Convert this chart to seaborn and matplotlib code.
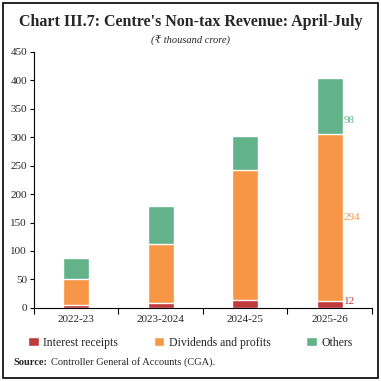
import pandas as pd
import seaborn as sns
import matplotlib.pyplot as plt
from matplotlib.patches import Rectangle, Patch

# Data (₹ thousand crore)
years = ["2022-23", "2023-2024", "2024-25", "2025-26"]
interest = [5, 9, 13, 12]
dividends = [45, 104, 230, 294]
others = [38, 66, 59, 98]

colors = {"Interest receipts": "#C0393B", "Dividends and profits": "#F79646", "Others": "#62B38A"}

df = pd.DataFrame({"year": years, "interest": interest, "dividends": dividends, "others": others})
df["cum_div"] = df["interest"] + df["dividends"]
df["cum_all"] = df["cum_div"] + df["others"]

sns.set_style("white")
plt.rcParams["font.family"] = ["Liberation Serif", "DejaVu Serif"]

fig = plt.figure(figsize=(3.81, 3.81), dpi=100)
ax = fig.add_axes([0.089, 0.192, 0.887, 0.672])

# stacked bars: draw totals first, then overlay the lower segments
sns.barplot(data=df, x="year", y="cum_all", color=colors["Others"], width=0.31, saturation=1, ax=ax)
sns.barplot(data=df, x="year", y="cum_div", color=colors["Dividends and profits"], width=0.31, saturation=1, ax=ax)
sns.barplot(data=df, x="year", y="interest", color=colors["Interest receipts"], width=0.31, saturation=1, ax=ax)

ax.set_ylim(0, 450)
ax.set_yticks(range(0, 451, 50))
ax.set_xlim(-0.5, 3.5)
ax.set_xlabel("")
ax.set_ylabel("")
sns.despine(ax=ax)
for s in ["left", "bottom"]:
    ax.spines[s].set_color("black")
    ax.spines[s].set_linewidth(0.8)
ax.tick_params(axis="y", length=3, width=0.8, color="black", labelsize=8, pad=2, left=True)
ax.tick_params(axis="x", which="major", length=0, labelsize=8, pad=5)
ax.set_xticks([-0.5, 0.5, 1.5, 2.5, 3.5], minor=True)
ax.tick_params(axis="x", which="minor", length=4, width=0.8, color="black", bottom=True)

# value labels for the latest year
last = len(years) - 1
xl = last + 0.17
ax.text(xl, interest[last], str(interest[last]), color=colors["Interest receipts"], fontsize=8, va="center", ha="left")
ax.text(xl, interest[last] + dividends[last] / 2, str(dividends[last]), color=colors["Dividends and profits"], fontsize=8, va="center", ha="left")
ax.text(xl, df["cum_div"][last] + others[last] * 0.23, str(others[last]), color=colors["Others"], fontsize=8, va="center", ha="left")

# titles
fig.text(0.5, 0.943, "Chart III.7: Centre's Non-tax Revenue: April-July", ha="center", va="center",
         fontsize=11.5, fontweight="bold")
fig.text(0.5, 0.893, "(₹ thousand crore)", ha="center", va="center", fontsize=7.5, style="italic")

# legend
handles = [Patch(facecolor=c, label=k) for k, c in colors.items()]
fig.legend(handles=handles, loc="center", bbox_to_anchor=(0.5, 0.101), ncol=3, frameon=False,
           fontsize=8.5, handlelength=0.9, handleheight=0.9, handletextpad=0.4, columnspacing=3.0)

fig.text(0.034, 0.049, "Source:", fontsize=7.5, fontweight="bold", va="center")
fig.text(0.134, 0.049, "Controller General of Accounts (CGA).", fontsize=7.5, va="center")

fig.add_artist(Rectangle((0.008, 0.008), 0.984, 0.984, transform=fig.transFigure, fill=False,
                         edgecolor="black", linewidth=1.2))

fig.savefig("out.png", dpi=100)
